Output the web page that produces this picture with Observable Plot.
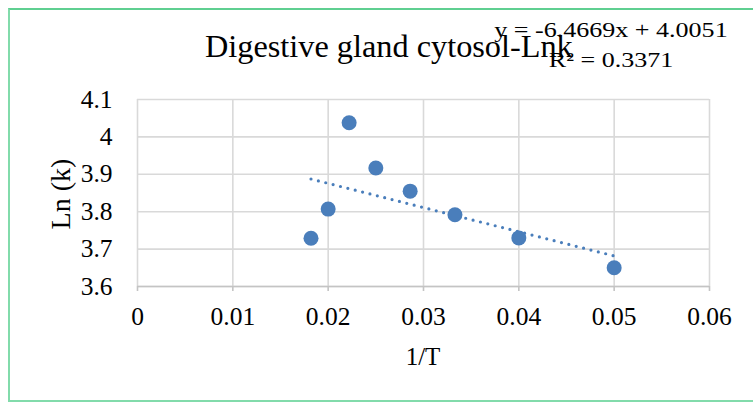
<!DOCTYPE html>
<html>
<head>
<meta charset="utf-8">
<script src="https://cdn.jsdelivr.net/npm/d3@7"></script>
<script src="https://cdn.jsdelivr.net/npm/@observablehq/plot@0.6"></script>
<style>
  html, body { margin: 0; padding: 0; background: #fff; }
  #wrap { position: relative; width: 753px; height: 403px; overflow: hidden; font-family: "Liberation Serif", "Times New Roman", serif; color: #000; }
  #wrap svg { position: absolute; left: 0; top: 0; }
  #wrap svg text { font-family: "Liberation Serif", "Times New Roman", serif !important; font-size: 25.5px !important; fill: #000; }
  .t { position: absolute; white-space: nowrap; line-height: 1; }
  #frame { position: absolute; left: 8px; top: 8px; width: 760px; height: 394px; border-top: 2px solid #5fcf91; border-left: 2px solid #82dbab; border-bottom: 2px solid #82dbab; box-sizing: border-box; }
</style>
</head>
<body>
<div id="wrap">
  <div id="frame"></div>
</div>
<script>
// Data
const invT = [0.0182, 0.0200, 0.0222, 0.0250, 0.0286, 0.0333, 0.0400, 0.0500];
const lnK  = [3.729, 3.807, 4.038, 3.917, 3.855, 3.792, 3.730, 3.650];
const xTicks = [0, 0.01, 0.02, 0.03, 0.04, 0.05, 0.06];
const yTicks = [3.6, 3.7, 3.8, 3.9, 4.0, 4.1];
const slope = -6.4669;
const intercept = 4.0051;
const titleText = "Digestive gland cytosol-Lnk";
const eqLine1 = "y = -6.4669x + 4.0051";
const eqLine2 = "R² = 0.3371";
const xLabel = "1/T";
const yLabel = "Ln (k)";

const points = invT.map((x, i) => ({x, y: lnK[i]}));
const xMin = d3.min(invT), xMax = d3.max(invT);
const trend = [xMin, xMax].map(x => ({x, y: slope * x + intercept}));

const fmt = d3.format("~g");

const chart = Plot.plot({
  width: 753,
  height: 403,
  marginLeft: 137,
  marginRight: 44,
  marginTop: 99,
  marginBottom: 117,
  style: { fontFamily: "'Liberation Serif', 'Times New Roman', serif", fontSize: "25.5px", background: "transparent", color: "#000" },
  x: { domain: [0, 0.06] },
  y: { domain: [3.6, 4.1] },
  marks: [
    Plot.ruleX(xTicks, { stroke: "#d9d9d9", strokeWidth: 1.6 }),
    Plot.ruleY(yTicks, { stroke: "#d9d9d9", strokeWidth: 1.6 }),
    Plot.ruleY([3.6], { stroke: "#c4c4c4", strokeWidth: 1.6 }),
    Plot.axisX(xTicks, { tickSize: 5, tickPadding: 15, stroke: "#c4c4c4", strokeWidth: 1.6, tickFormat: fmt, fontSize: 25.5, label: null, fill: "#000" }),
    Plot.axisY(yTicks, { tickSize: 0, tickPadding: 25, tickFormat: fmt, fontSize: 25.5, label: null, fill: "#000" }),
    Plot.line(trend, { x: "x", y: "y", stroke: "#4a7ebb", strokeWidth: 3.2, strokeDasharray: "0 7.6", strokeLinecap: "round" }),
    Plot.dot(points, { x: "x", y: "y", r: 7.5, fill: "#4a7ebb", stroke: "none" })
  ]
});

const wrap = document.getElementById("wrap");
wrap.appendChild(chart);

function addText(txt, css) {
  const d = document.createElement("div");
  d.className = "t";
  d.textContent = txt;
  Object.assign(d.style, css);
  wrap.appendChild(d);
  return d;
}

addText(titleText, { left: "205px", top: "30px", fontSize: "32.3px" });
addText(eqLine1, { left: "611px", top: "20px", fontSize: "20.5px", transform: "translateX(-50%) scaleX(1.27)", transformOrigin: "center" });
addText(eqLine2, { left: "611px", top: "49.5px", fontSize: "20.5px", transform: "translateX(-50%) scaleX(1.27)", transformOrigin: "center" });
addText(xLabel, { left: "423px", top: "344px", fontSize: "25px", transform: "translateX(-50%)" });
addText(yLabel, { left: "61px", top: "194px", fontSize: "28px", transform: "translate(-50%, -50%) rotate(-90deg)" });
</script>
</body>
</html>
